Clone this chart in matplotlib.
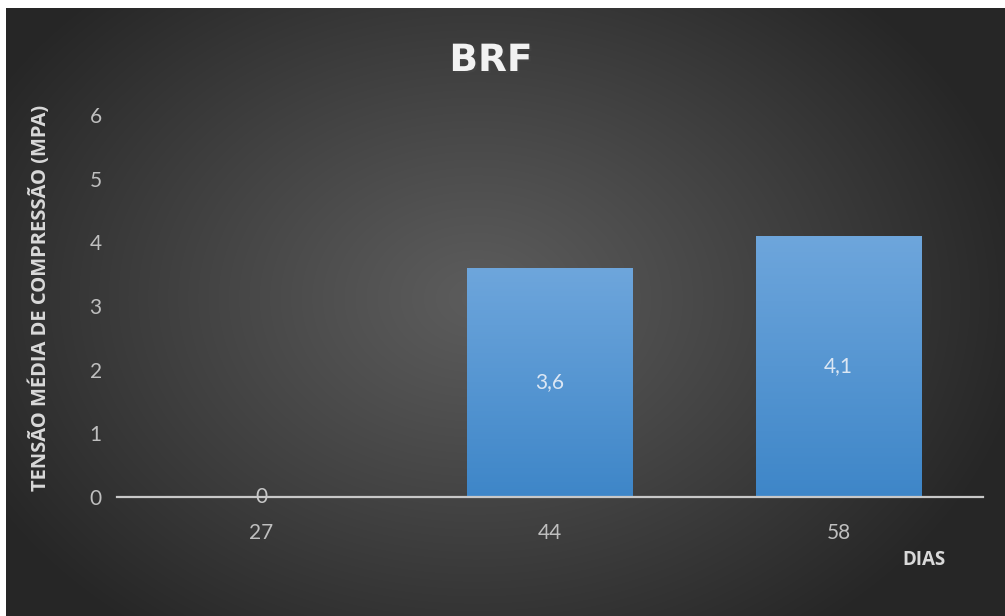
import numpy as np
import matplotlib
matplotlib.use("Agg")
import matplotlib.pyplot as plt
from matplotlib import patheffects as pe
from matplotlib.colors import LinearSegmentedColormap

# Data
dias = ["27", "44", "58"]
tensao = [0.0, 3.6, 4.1]
rotulos = ["0", "3,6", "4,1"]
y_ticks = [0, 1, 2, 3, 4, 5, 6]

W, H, DPI = 1005, 616, 100
fig = plt.figure(figsize=(W / DPI, H / DPI), dpi=DPI, facecolor="white")

# Dark radial-gradient panel behind the chart
bg = fig.add_axes([6 / W, 0, (W - 6) / W, (H - 8) / H], zorder=0)
bw, bh = W - 6, H - 8
xx, yy = np.meshgrid(np.arange(bw), np.arange(bh))
d = np.sqrt(((xx - 470) / 560.0) ** 2 + ((yy - 290) / 420.0) ** 2)
d = np.clip(d, 0, 1)
light, dark = 0x5C / 255, 0x26 / 255
val = light + (dark - light) * d ** 1.1
bg.imshow(np.dstack([val, val, val]), aspect="auto", interpolation="bilinear",
          extent=(0, bw, bh, 0))
bg.set_axis_off()

# Main plot area
ax = fig.add_axes([117 / W, 119 / H, 866 / W, 382 / H], zorder=1)
ax.set_facecolor("none")
x = np.arange(len(dias))
bars = ax.bar(x, tensao, width=0.573, color="#4A8FD2", zorder=2)

# Vertical blue gradient inside each bar
bar_cmap = LinearSegmentedColormap.from_list("barra", ["#3E86C8", "#6EA6DC"])
grad = np.linspace(0, 1, 256).reshape(-1, 1)
for b in bars:
    h = b.get_height()
    if h <= 0:
        continue
    b.set_path_effects([pe.withSimplePatchShadow(offset=(0, 0), shadow_rgbFace="black",
                                                 alpha=0.35)])
    im = ax.imshow(grad, cmap=bar_cmap, origin="lower", aspect="auto",
                   extent=(b.get_x(), b.get_x() + b.get_width(), 0, h), zorder=3)
    im.set_clip_path(b)

for xi, v, lab in zip(x, tensao, rotulos):
    if v > 0:
        ax.text(xi, v / 2, lab, ha="center", va="center", fontsize=15,
                family="Lato", color="#DCE7F4", zorder=5)
    else:
        ax.text(xi, 0, lab, ha="center", va="center", fontsize=15,
                family="Lato", color="#C8C8C8", zorder=5)

ax.set_xlim(-0.5, 2.5)
ax.set_ylim(0, 6)
ax.set_xticks(x)
ax.set_xticklabels(dias)
ax.set_yticks(y_ticks)
ax.set_yticklabels([str(t) for t in y_ticks])
ax.tick_params(axis="both", length=0, colors="#BFBFBF", labelsize=15)
ax.tick_params(axis="x", pad=19)
ax.tick_params(axis="y", pad=11)
for lbl in ax.get_xticklabels() + ax.get_yticklabels():
    lbl.set_family("Lato")
for s in ["top", "right", "left"]:
    ax.spines[s].set_visible(False)
ax.spines["bottom"].set_color("#C8C8C8")
ax.spines["bottom"].set_linewidth(1.6)
ax.spines["bottom"].set_zorder(4)

# Titles and axis labels
fig.text(491 / W, 1 - 61 / H, "BRF", ha="center", va="center", fontsize=27,
         fontweight="bold", family="DejaVu Sans", color="#F2F2F2",
         path_effects=[pe.withSimplePatchShadow(offset=(1.5, -1.5), alpha=0.45)])
fig.text(40 / W, 1 - 298 / H, "TENSÃO MÉDIA DE COMPRESSÃO (MPA)", rotation=90,
         ha="center", va="center", fontsize=14.5, fontweight="bold",
         family="Open Sans", color="#D9D9D9")
fig.text(946 / W, 1 - 560 / H, "DIAS", ha="right", va="center", fontsize=13.5,
         fontweight="bold", family="Open Sans", color="#D9D9D9")

fig.savefig("out.png", dpi=DPI, facecolor="white")
